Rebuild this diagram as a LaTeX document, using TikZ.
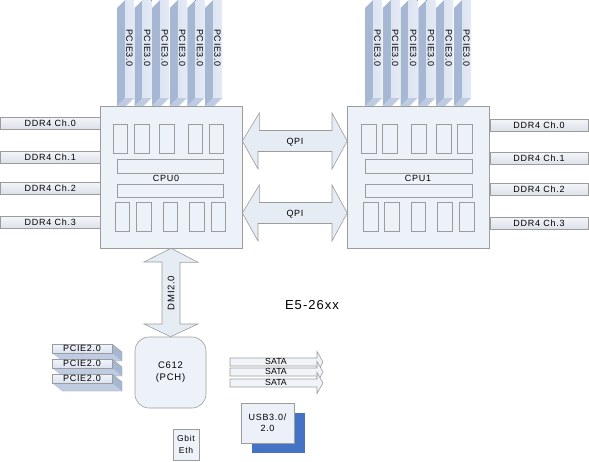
\documentclass[tikz,border=0pt]{standalone}
\usepackage{fontspec}
\setmainfont{Liberation Sans}
\newfontfamily\lblfont{Liberation Sans}[LetterSpace=8.0]
\usetikzlibrary{calc}
\definecolor{cpufill}{HTML}{EDF1F8}
\definecolor{bordc}{HTML}{9C9C9C}
\definecolor{slabside}{HTML}{A6B7D4}
\definecolor{slabfront}{HTML}{E4EAF5}
\definecolor{slabbottom}{HTML}{BFCBE0}
\definecolor{arrowfill}{HTML}{E6ECF4}
\definecolor{ddrtop}{HTML}{F3F5F8}
\definecolor{ddrbot}{HTML}{DCE1E9}
\definecolor{usbblue}{HTML}{4472C4}
\begin{document}
\begin{tikzpicture}[x=1pt,y=-1pt,
  line width=0.6pt,
  cpubox/.style={draw=bordc, fill=cpufill, inner sep=0pt, minimum width=142pt, minimum height=142pt},
  innerbox/.style={draw=bordc, fill=cpufill},
  ddrbox/.style={draw=bordc, top color=ddrtop, bottom color=ddrbot, inner sep=0pt, minimum height=12pt,
     font=\lblfont\fontsize{9}{9}\selectfont},
  lbl/.style={inner sep=0pt, font=\lblfont\fontsize{9}{9}\selectfont},
  bigarrow/.style={draw=bordc, fill=arrowfill},
  slabf/.style={draw=none, left color=slabfront!90!slabside, right color=slabfront},
]
\useasboundingbox (0,0) rectangle (589,461);
\begin{scope}
\clip (0,0) rectangle (589,461);
% PCIe 3.0 slabs, CPU0
\foreach \a [count=\i] in {117,134.6,152.2,169.8,187.4,205} {
  \fill[slabside] (\a,106) -- (\a,8) -- (\a+8,0) -- (\a+8,98) -- cycle;
  \fill[slabf] (\a+8,-2) rectangle (\a+17,98);
  \fill[slabbottom] (\a,106) -- (\a+8,98) -- (\a+17,98) -- (\a+9,106) -- cycle;
  \node[lbl, rotate=-90] (pcieL\i) at (\a+12.5,48) {PCIE3.0};
}
% PCIe 3.0 slabs, CPU1
\foreach \a [count=\i] in {365,382.8,400.6,418.4,436.2,454} {
  \fill[slabside] (\a,106) -- (\a,8) -- (\a+8,0) -- (\a+8,98) -- cycle;
  \fill[slabf] (\a+8,-2) rectangle (\a+17,98);
  \fill[slabbottom] (\a,106) -- (\a+8,98) -- (\a+17,98) -- (\a+9,106) -- cycle;
  \node[lbl, rotate=-90] (pcieR\i) at (\a+12.5,48) {PCIE3.0};
}
\end{scope}

% CPUs
\node[cpubox] (cpu0) at (171,177) {};
\node[cpubox] (cpu1) at (418.5,177) {};
% CPU0 internals
\foreach \l/\r in {113/127,134/149,159/174,188/202,209/223}
  \draw[innerbox] (\l,124) rectangle (\r,153);
\draw[innerbox] (117,159) rectangle (223,173);
\draw[innerbox] (117,184) rectangle (223,197);
\foreach \l/\r in {115/129,136/151,163/177,189/204,211/225}
  \draw[innerbox] (\l,202) rectangle (\r,231);
\node[lbl] (cpu0lbl) at (166,178) {CPU0};
% CPU1 internals
\foreach \l/\r in {361/376,382/397,411/426,436/451,457/472}
  \draw[innerbox] (\l,124) rectangle (\r,153);
\draw[innerbox] (365,159) rectangle (472,173);
\draw[innerbox] (365,184) rectangle (472,197);
\foreach \l/\r in {363/378,384/399,411/425,437/452,459/474}
  \draw[innerbox] (\l,202) rectangle (\r,231);
\node[lbl] (cpu1lbl) at (418,178) {CPU1};

% DDR channels
\foreach \y/\n [count=\i from 0] in {123/0,157/1,188/2,222.5/3}
  \node[ddrbox, minimum width=99.5pt] (ddrL\i) at (50.25,\y) {DDR4 Ch.\n};
\foreach \y/\n [count=\i from 0] in {125/0,158.5/1,189.5/2,223/3}
  \node[ddrbox, minimum width=98pt] (ddrR\i) at (539,\y) {DDR4 Ch.\n};

% QPI arrows
\foreach \cy [count=\i] in {141,213} {
  \draw[bigarrow] (cpu0.east |- 0,\cy) -- ++(17,-28) -- ++(0,17.5) -- (332,\cy-10.5)
     -- ++(0,-17.5) -- (cpu1.west |- 0,\cy) -- (332,\cy+28) -- ++(0,-17.5)
     -- (258,\cy+10.5) -- ++(0,17.5) -- cycle;
  \node[lbl] (qpi\i) at (295,\cy+1) {QPI};
}

% PCH
\node[draw=bordc, fill=cpufill, rounded corners=14pt, minimum width=71pt, minimum height=71pt,
      inner sep=0pt, align=center, font=\lblfont\fontsize{9.5}{12}\selectfont] (pch) at (170.5,372.5) {C612\\(PCH)};

% DMI arrow
\draw[bigarrow] (cpu0.south) -- ++(27,14) -- ++(-18,0) -- (180,324) -- ++(18,0)
   -- (pch.north) -- (144,324) -- ++(18,0) -- (162,262) -- ++(-18,0) -- cycle;
\node[lbl, rotate=90, font=\lblfont\fontsize{9.5}{9}\selectfont] (dmi) at (171,293) {DMI2.0};

% PCIe 2.0 slabs
\foreach \k [count=\i] in {0,15,30} {
  \fill[slabbottom] (52,353+\k) -- (112,353+\k) -- (122,361+\k) -- (62,361+\k) -- cycle;
  \fill[slabside] (112,344+\k) -- (122,352+\k) -- (122,361+\k) -- (112,353+\k) -- cycle;
  \draw[bordc, line width=0.4pt] (62,361+\k) -- (122,361+\k) -- (122,352+\k) -- (112,344+\k);
  \node[draw=bordc, line width=0.4pt, top color=white!50!slabfront, bottom color=slabfront!85!slabside,
        minimum width=60pt, minimum height=9pt, inner sep=0pt,
        font=\lblfont\fontsize{9}{9}\selectfont] (pcie2\i) at (82,348.5+\k) {PCIE2.0};
}

% SATA arrows
\foreach \cy [count=\i] in {362,372,383} {
  \draw[bigarrow, fill=white!40!arrowfill] (230,\cy-4) -- (317,\cy-4) -- (317,\cy-10.5) -- (323,\cy)
     -- (317,\cy+10.5) -- (317,\cy+4) -- (230,\cy+4) -- cycle;
  \node[inner sep=0pt, font=\fontsize{8.8}{9}\selectfont] (sata\i) at (276,\cy-0.5) {SATA};
}

% USB
\fill[usbblue] (252,413) rectangle (305,453);
\node[draw=bordc, fill=cpufill!90!slabfront, minimum width=53pt, minimum height=40pt, inner sep=0pt,
      align=center, font=\lblfont\fontsize{9}{11.5}\selectfont] (usb) at (267.5,423) {USB3.0/\\2.0};

% Gbit Eth
\node[draw=bordc, fill=cpufill, minimum width=26pt, minimum height=31pt, inner sep=0pt,
      align=center, font=\lblfont\fontsize{8.5}{12}\selectfont] (gbe) at (186,444.5) {Gbit\\Eth};

% Title
\node[inner sep=0pt, font=\lblfont\fontsize{13}{13}\selectfont] (title) at (312,305) {E5-26xx};
\end{tikzpicture}
\end{document}
